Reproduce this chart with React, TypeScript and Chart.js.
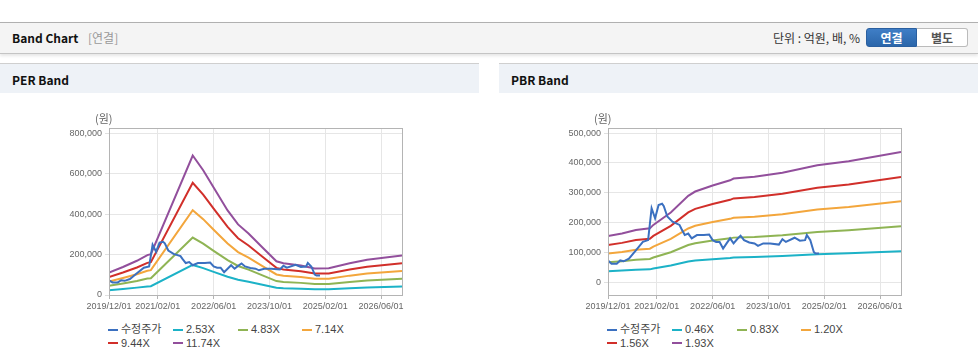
import React, { useEffect, useRef } from 'react';
import { Chart, registerables } from 'chart.js';

Chart.register(...registerables);

// ---- shared x axis (month index, 0 = 2019/12) ----
const xMin = 0;
const xMax = 84;
const xTickMonths = [0, 14, 30, 46, 62, 78];
const xTickLabels = ['2019/12/01', '2021/02/01', '2022/06/01', '2023/10/01', '2025/02/01', '2026/06/01'];

// ---- adjusted price (수정주가) ----
const priceLabel = '수정주가';
const priceMonths = [0, 1, 2.5, 3.5, 4.5, 6, 8, 10, 11.5, 12.5, 13.5, 14.5, 15.5, 16, 17, 18.5, 20.5, 21, 22, 23, 24, 25.5, 27.5, 29, 30, 31, 32, 33, 34, 35, 36, 37, 38, 39, 40.5, 42, 43, 44.5, 46.5, 49, 50, 51, 53.5, 55, 56.5, 57, 58, 59, 59.5, 60.5];
const priceValues = [73000, 62000, 62000, 73000, 70000, 79000, 107000, 135000, 141000, 248000, 214000, 259000, 263000, 255000, 220000, 203000, 192000, 180000, 158000, 163000, 147000, 158000, 158000, 160000, 141000, 135000, 135000, 113000, 130000, 147000, 130000, 144000, 156000, 141000, 133000, 130000, 122000, 130000, 130000, 126000, 144000, 135000, 149000, 139000, 141000, 158000, 141000, 101000, 96000, 96000];

// ---- PER band ----
const perMonths = [0, 4, 8, 11, 12, 24, 27, 30, 34, 37, 40, 44, 48, 50, 55, 59, 63, 69, 74, 84];
const perEps = [9400, 11800, 14400, 16800, 17200, 58700, 52500, 45200, 35600, 29700, 25900, 20000, 14200, 13400, 12400, 11200, 11300, 13400, 14800, 16600];
const perMultiples = [2.53, 4.83, 7.14, 9.44, 11.74];
const perBandLabels = ['2.53X', '4.83X', '7.14X', '9.44X', '11.74X'];
const perYTicks = [0, 200000, 400000, 600000, 800000];
const perYMin = 0;
const perYMax = 825000;

// ---- PBR band ----
const pbrMonths = [0, 4, 8, 12, 13, 18, 23, 25, 30, 35, 36, 42, 50, 60, 69, 84];
const pbrBps = [80000, 84500, 90500, 93500, 99500, 121000, 150000, 157500, 168000, 177000, 180000, 183000, 190000, 203000, 210000, 226000];
const pbrMultiples = [0.46, 0.83, 1.2, 1.56, 1.93];
const pbrBandLabels = ['0.46X', '0.83X', '1.20X', '1.56X', '1.93X'];
const pbrYTicks = [0, 100000, 200000, 300000, 400000, 500000];
const pbrYMin = -43000;
const pbrYMax = 517000;

const priceColor = '#3b70c0';
const bandColors = ['#1cb2c7', '#8fb454', '#f3a63c', '#d12f2a', '#924f9c'];

const TICK_FONT = "'Liberation Sans', 'Noto Sans CJK KR', sans-serif";
const KR_FONT = "'Noto Sans CJK KR', 'Liberation Sans', sans-serif";

const framePlugin = {
  id: 'frame',
  afterDraw(chart: any) {
    const { ctx, chartArea } = chart;
    ctx.save();
    ctx.strokeStyle = '#b4b4b4';
    ctx.lineWidth = 1;
    ctx.strokeRect(
      Math.round(chartArea.left) + 0.5,
      Math.round(chartArea.top) + 0.5,
      Math.round(chartArea.right - chartArea.left),
      Math.round(chartArea.bottom - chartArea.top)
    );
    ctx.restore();
  },
};

function fmt(v: number) {
  return Math.round(v).toString().replace(/\B(?=(\d{3})+(?!\d))/g, ',');
}

type BandProps = {
  months: number[];
  base: number[];
  multiples: number[];
  labels: string[];
  yTicks: number[];
  yMin: number;
  yMax: number;
};

function BandCanvas(props: BandProps) {
  const ref = useRef<HTMLCanvasElement | null>(null);
  useEffect(() => {
    if (!ref.current) return;
    const datasets: any[] = [
      {
        label: priceLabel,
        data: priceMonths.map((m, i) => ({ x: m, y: priceValues[i] })),
        borderColor: priceColor,
        backgroundColor: priceColor,
        borderWidth: 2,
        pointRadius: 0,
        tension: 0,
      },
      ...props.multiples.map((mult, k) => ({
        label: props.labels[k],
        data: props.months.map((m, i) => ({ x: m, y: props.base[i] * mult })),
        borderColor: bandColors[k],
        backgroundColor: bandColors[k],
        borderWidth: 2,
        pointRadius: 0,
        tension: 0,
      })),
    ];
    const chart = new Chart(ref.current, {
      type: 'line',
      data: { datasets },
      plugins: [framePlugin],
      options: {
        animation: false,
        responsive: false,
        maintainAspectRatio: false,
        devicePixelRatio: 1,
        layout: { padding: { left: 0, top: 33, right: 77, bottom: 0 } },
        plugins: { legend: { display: false }, tooltip: { enabled: false } },
        scales: {
          x: {
            type: 'linear',
            min: xMin,
            max: xMax,
            afterBuildTicks: (axis: any) => {
              axis.ticks = xTickMonths.map((v) => ({ value: v }));
            },
            afterFit: (axis: any) => {
              axis.height = 20;
            },
            ticks: {
              autoSkip: false,
              maxRotation: 0,
              padding: 2,
              color: '#666',
              font: { family: TICK_FONT, size: 9 },
              callback: (v: any) => {
                const i = xTickMonths.indexOf(Number(v));
                return i >= 0 ? xTickLabels[i] : '';
              },
            },
            grid: { color: '#e6e6e6', tickColor: '#b4b4b4', tickLength: 4 },
            border: { color: '#b4b4b4' },
          },
          y: {
            type: 'linear',
            min: props.yMin,
            max: props.yMax,
            afterBuildTicks: (axis: any) => {
              axis.ticks = props.yTicks.map((v) => ({ value: v }));
            },
            afterFit: (axis: any) => {
              axis.width = 109;
            },
            ticks: {
              padding: 3,
              color: '#666',
              font: { family: TICK_FONT, size: 9 },
              callback: (v: any) => fmt(Number(v)),
            },
            grid: { color: '#e6e6e6', tickColor: '#e0e0e0', tickLength: 4 },
            border: { color: '#b4b4b4' },
          },
        },
      } as any,
    });
    return () => chart.destroy();
  }, []);
  return <canvas ref={ref} width={479} height={220} style={{ display: 'block', width: 479, height: 220 }} />;
}

function Legend({ labels }: { labels: string[] }) {
  const items = [{ label: priceLabel, color: priceColor }, ...labels.map((l, i) => ({ label: l, color: bandColors[i] }))];
  return (
    <div
      style={{
        position: 'absolute',
        left: 108,
        top: 323,
        display: 'grid',
        gridTemplateColumns: '65px 65px 64px 65px',
        gridAutoRows: '13.5px',
      }}
    >
      {items.map((it) => (
        <div key={it.label} style={{ display: 'flex', alignItems: 'center', whiteSpace: 'nowrap' }}>
          <span style={{ display: 'inline-block', width: 10, height: 2, background: it.color, marginRight: 3 }} />
          <span style={{ fontFamily: TICK_FONT, fontSize: 11, color: '#444', lineHeight: '13px' }}>{it.label}</span>
        </div>
      ))}
    </div>
  );
}

function Panel({ left, title, band }: { left: number; title: string; band: BandProps }) {
  return (
    <div style={{ position: 'absolute', left, top: 0, width: 479, height: 364 }}>
      <div
        style={{
          position: 'absolute',
          left: 0,
          top: 63,
          width: 479,
          height: 29,
          borderTop: '1px solid #cfcfcf',
          background: '#eef2f7',
        }}
      >
        <span
          style={{
            position: 'absolute',
            left: 12,
            top: 7,
            fontFamily: KR_FONT,
            fontWeight: 700,
            fontSize: 12,
            color: '#111',
            lineHeight: '18px',
          }}
        >
          {title}
        </span>
      </div>
      <div style={{ position: 'absolute', left: 0, top: 95 }}>
        <BandCanvas {...band} />
      </div>
      <span
        style={{
          position: 'absolute',
          left: 95,
          top: 110,
          fontFamily: KR_FONT,
          fontSize: 11,
          color: '#666',
          lineHeight: '16px',
        }}
      >
        (원)
      </span>
      <Legend labels={band.labels} />
    </div>
  );
}

export default function App() {
  useEffect(() => {
    document.body.style.margin = '0';
  }, []);
  return (
    <div style={{ position: 'relative', width: 978, height: 364, background: '#fff', overflow: 'hidden' }}>
      <div
        style={{
          position: 'absolute',
          left: 0,
          top: 22,
          width: 978,
          height: 30,
          background: '#f4f4f4',
          borderTop: '1px solid #b0b0b0',
          borderBottom: '1px solid #c4c4c4',
          boxShadow: '0 2px 3px rgba(0,0,0,0.10)',
        }}
      >
        <span
          style={{
            position: 'absolute',
            left: 12,
            top: 6,
            fontFamily: KR_FONT,
            fontWeight: 700,
            fontSize: 12,
            color: '#111',
            lineHeight: '18px',
          }}
        >
          Band Chart
        </span>
        <span
          style={{
            position: 'absolute',
            left: 88,
            top: 6,
            fontFamily: KR_FONT,
            fontSize: 12,
            color: '#999',
            lineHeight: '18px',
          }}
        >
          [연결]
        </span>
        <span
          style={{
            position: 'absolute',
            right: 118,
            top: 6,
            fontFamily: KR_FONT,
            fontSize: 12,
            color: '#333',
            lineHeight: '18px',
          }}
        >
          단위 : 억원, 배, %
        </span>
        <div
          style={{
            position: 'absolute',
            left: 866,
            top: 5,
            width: 51,
            height: 19,
            boxSizing: 'border-box',
            background: 'linear-gradient(#3f7ec6, #2b66aa)',
            border: '1px solid #2a5f9f',
            borderRadius: '3px 0 0 3px',
            color: '#fff',
            fontFamily: KR_FONT,
            fontWeight: 700,
            fontSize: 12,
            lineHeight: '17px',
            textAlign: 'center',
          }}
        >
          연결
        </div>
        <div
          style={{
            position: 'absolute',
            left: 917,
            top: 5,
            width: 51,
            height: 19,
            boxSizing: 'border-box',
            background: '#fff',
            border: '1px solid #bbb',
            borderLeft: 'none',
            borderRadius: '0 3px 3px 0',
            color: '#555',
            fontFamily: KR_FONT,
            fontWeight: 700,
            fontSize: 12,
            lineHeight: '17px',
            textAlign: 'center',
          }}
        >
          별도
        </div>
      </div>
      <Panel
        left={0}
        title="PER Band"
        band={{
          months: perMonths,
          base: perEps,
          multiples: perMultiples,
          labels: perBandLabels,
          yTicks: perYTicks,
          yMin: perYMin,
          yMax: perYMax,
        }}
      />
      <Panel
        left={499}
        title="PBR Band"
        band={{
          months: pbrMonths,
          base: pbrBps,
          multiples: pbrMultiples,
          labels: pbrBandLabels,
          yTicks: pbrYTicks,
          yMin: pbrYMin,
          yMax: pbrYMax,
        }}
      />
    </div>
  );
}
